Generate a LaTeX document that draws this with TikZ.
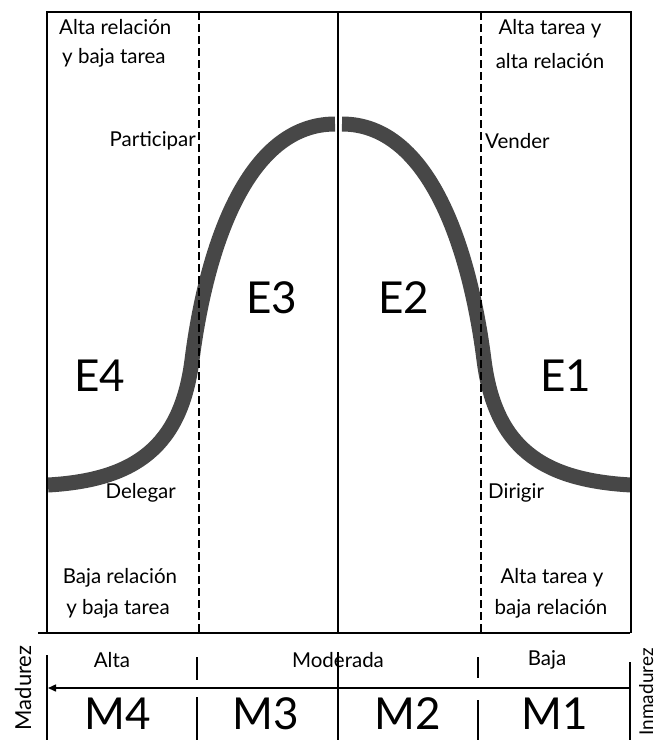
\documentclass[tikz,border=0pt]{standalone}
\usepackage{fontspec}
\setmainfont{Lato}
\usetikzlibrary{arrows.meta}
\begin{document}
\begin{tikzpicture}[x=1pt,y=-1pt,
  lbl/.style={font=\fontsize{20.5}{22}\selectfont, inner sep=0pt},
  big/.style={font=\fontsize{44}{46}\selectfont, inner sep=0pt},
  frame/.style={line width=2pt},
  dashline/.style={line width=2pt, dash pattern=on 8pt off 4pt},
  curve/.style={line width=15pt, draw=black!72}]
\useasboundingbox (0,0) rectangle (656,740);
% curve
\draw[curve] (48,485) .. controls (136,480) and (181,446) .. (192,360)
  .. controls (206,250) and (246,124) .. (335,124);
\draw[curve] (342,124) .. controls (430,124) and (470,250) .. (484,360)
  .. controls (495,446) and (540,480) .. (631,485);
% frame
\draw[frame] (47,633) -- (47,12) -- (631,12) -- (631,633);
\draw[frame] (38,633) -- (630,633);
\draw[line width=1.5pt] (338,12) -- (338,633);
\draw[dashline] (199,12) -- (199,633);
\draw[dashline] (481,12) -- (481,633);
% labels top
\node[lbl, anchor=west] (ar) at (59,27) {Alta relación};
\node[lbl, anchor=west] (ybt) at (62,58) {y baja tarea};
\node[lbl, anchor=east] (part) at (196,141) {Participar};
\node[lbl, anchor=west] (vend) at (485,141) {Vender};
\node[lbl] (aty) at (550,29) {Alta tarea y};
\node[lbl] (aar) at (550,61) {alta relación};
\node[lbl, anchor=east] (del) at (176,493) {Delegar};
\node[lbl, anchor=west] (dir) at (488,493) {Dirigir};
\node[lbl] (br) at (120,578) {Baja relación};
\node[lbl] (ybt2) at (118,609) {y baja tarea};
\node[lbl] (aty2) at (552,578) {Alta tarea y};
\node[lbl] (bar) at (551,609) {baja relación};
% styles
\node[big] (e4) at (100,376) {E4};
\node[big] (e3) at (272,298) {E3};
\node[big] (e2) at (404,298) {E2};
\node[big] (e1) at (566,376) {E1};
% bottom scale
\draw[frame] (47,655) -- (47,740);
\draw[line width=1.5pt] (197,657) -- (197,680) (197,697) -- (197,740);
\draw[line width=1.5pt] (338,652) -- (338,740);
\draw[line width=1.5pt] (478,657) -- (478,678) (478,700) -- (478,740);
\draw[frame] (630,662) -- (630,740);
\coordinate (ar1) at (630,688);
\coordinate (ar0) at (48,688);
\draw[line width=1.5pt, -{Triangle[length=8pt,width=7pt]}] (ar1) -- (ar0);
\node[lbl] (alta) at (112,660) {Alta};
\node[lbl] (mod) at (338,660) {Moderada};
\node[lbl] (baja) at (547,660) {Baja};
\node[big] (m4) at (118,714) {M4};
\node[big] (m3) at (266,714) {M3};
\node[big] (m2) at (408,714) {M2};
\node[big] (m1) at (555,714) {M1};
\node[lbl, font=\fontsize{22}{24}\selectfont, rotate=90, anchor=base] (mad) at (31,688) {Madurez};
\node[lbl, font=\fontsize{19}{21}\selectfont, rotate=90, anchor=base east] (inm) at (653,648) {Inmadurez};
\end{tikzpicture}
\end{document}
